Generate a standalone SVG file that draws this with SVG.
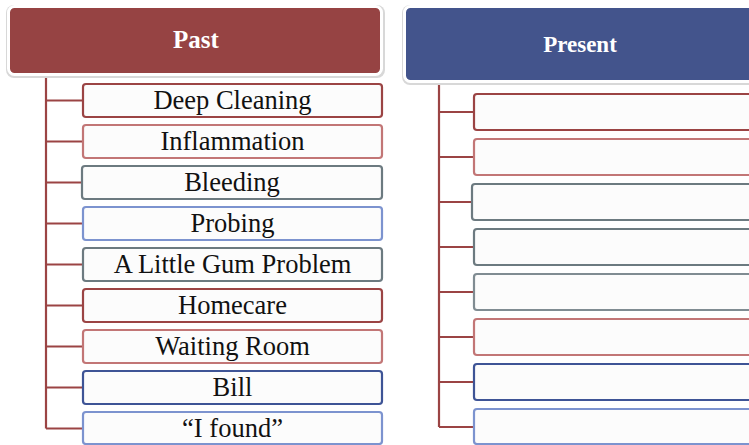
<svg xmlns="http://www.w3.org/2000/svg" width="749" height="445" viewBox="0 0 749 445">
<defs>
<style>
.hdr-shadow{fill:#d8d8d8;}
.hdr{stroke:#ffffff;stroke-width:3;}
.hdr-txt{font-family:"Liberation Serif","DejaVu Serif",serif;font-weight:bold;font-size:23px;fill:#ffffff;text-anchor:middle;}
.box{fill:#fcfcfc;stroke-width:2.2;}
.lbl{font-family:"Liberation Serif","DejaVu Serif",serif;font-size:26.5px;fill:#111111;text-anchor:middle;}
.conn{stroke:#9b4444;stroke-width:2.2;fill:none;}
.dr{stroke:#9b4444;}
.lr{stroke:#c27676;}
.gy{stroke:#6c7a80;}
.lg{stroke:#808c92;}
.lb{stroke:#7c93cf;}
.db{stroke:#3e5496;}
</style>
</defs>
<rect width="749" height="445" fill="#ffffff"/>
<g id="connectors">
<path class="conn" d="M46,74 V428.5 M46,100.5 H83 M46,141.5 H83 M46,182.5 H82 M46,223.5 H83 M46,264.5 H83 M46,305.5 H83 M46,346.5 H83 M46,387.5 H83 M46,428.5 H83"/>
<path class="conn" d="M439,81 V427 M439,112 H474 M439,157 H474 M439,202 H472 M439,247 H474 M439,292 H474 M439,337 H474 M439,382 H474 M439,427 H474"/>
</g>
<g id="past-header">
<rect class="hdr-shadow" x="6" y="5" width="379" height="73" rx="8"/>
<rect class="hdr" x="8.5" y="6.5" width="373" height="68" rx="6" fill="#964343"/>
<text class="hdr-txt" x="196" y="48" style="font-size:25px">Past</text>
</g>
<g id="present-header">
<rect class="hdr-shadow" x="402" y="5" width="360" height="80" rx="8"/>
<rect class="hdr" x="404.5" y="6.5" width="360" height="75" rx="6" fill="#43548c"/>
<text class="hdr-txt" x="580" y="52">Present</text>
</g>
<g id="past-1"><rect class="box dr" x="83" y="84" width="299" height="33" rx="3"/><text class="lbl" x="232.5" y="109">Deep Cleaning</text></g>
<g id="past-2"><rect class="box lr" x="83" y="125" width="299" height="33" rx="3"/><text class="lbl" x="232.5" y="150">Inflammation</text></g>
<g id="past-3"><rect class="box gy" x="82" y="166" width="300" height="33" rx="3"/><text class="lbl" x="232" y="191">Bleeding</text></g>
<g id="past-4"><rect class="box lb" x="83" y="207" width="299" height="33" rx="3"/><text class="lbl" x="232.5" y="232">Probing</text></g>
<g id="past-5"><rect class="box gy" x="83" y="248" width="299" height="33" rx="3"/><text class="lbl" x="232.5" y="273">A Little Gum Problem</text></g>
<g id="past-6"><rect class="box dr" x="83" y="289" width="299" height="33" rx="3"/><text class="lbl" x="232.5" y="314">Homecare</text></g>
<g id="past-7"><rect class="box lr" x="83" y="330" width="299" height="33" rx="3"/><text class="lbl" x="232.5" y="355">Waiting Room</text></g>
<g id="past-8"><rect class="box db" x="83" y="371" width="299" height="33" rx="3"/><text class="lbl" x="232.5" y="396">Bill</text></g>
<g id="past-9"><rect class="box lb" x="83" y="412" width="299" height="32" rx="3"/><text class="lbl" x="232.5" y="437">“I found”</text></g>
<g id="present-1"><rect class="box dr" x="474" y="94" width="300" height="36" rx="3"/></g>
<g id="present-2"><rect class="box lr" x="474" y="139" width="300" height="36" rx="3"/></g>
<g id="present-3"><rect class="box gy" x="472" y="184" width="300" height="36" rx="3"/></g>
<g id="present-4"><rect class="box gy" x="474" y="229" width="300" height="36" rx="3"/></g>
<g id="present-5"><rect class="box lg" x="474" y="274" width="300" height="36" rx="3"/></g>
<g id="present-6"><rect class="box lr" x="474" y="319" width="300" height="36" rx="3"/></g>
<g id="present-7"><rect class="box db" x="474" y="364" width="300" height="36" rx="3"/></g>
<g id="present-8"><rect class="box lb" x="474" y="409" width="300" height="35" rx="3"/></g>
</svg>
